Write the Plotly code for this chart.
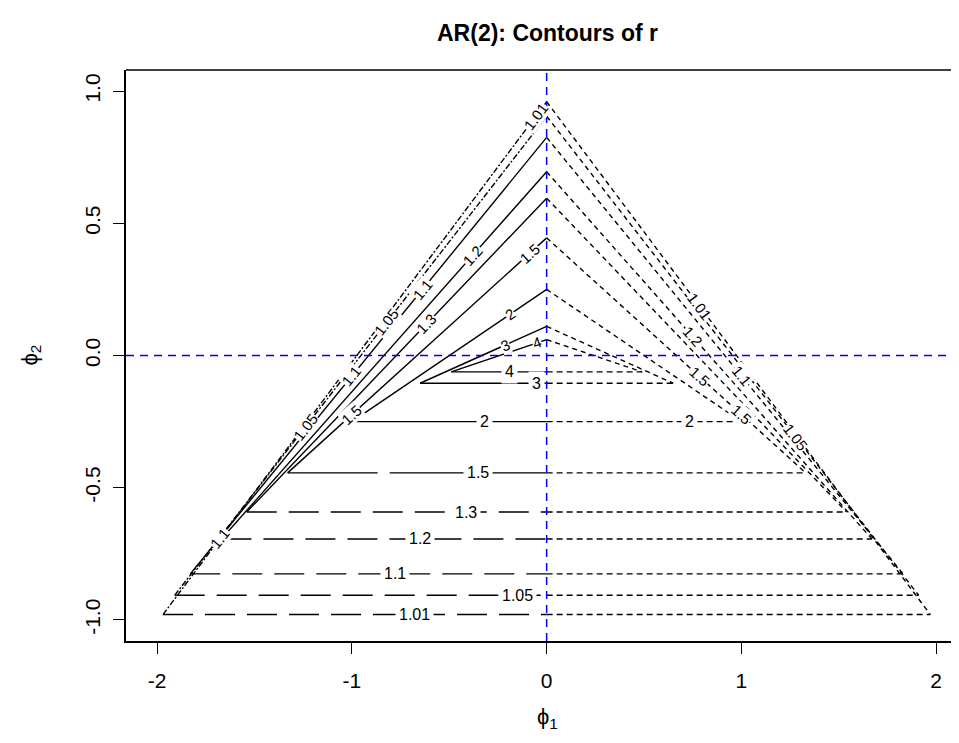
import numpy as np
import plotly.graph_objects as go

# ---- data ----
level_labels = ["1.01", "1.05", "1.1", "1.2", "1.3", "1.5", "2", "3", "4"]
apex_phi2 = [0.96, 0.905, 0.825, 0.695, 0.595, 0.445, 0.25, 0.11, 0.06]
base_phi2 = [-0.98, -0.907, -0.826, -0.694, -0.592, -0.444, -0.25, -0.105, -0.062]
half_width = [1.97, 1.91, 1.83, 1.67, 1.54, 1.33, 1.0, 0.65, 0.49]

# contour labels on the horizontal parts: level index and phi1 position
hlabel_level = [0, 1, 2, 3, 4, 5, 6, 6, 7, 8]
hlabel_phi1 = [-0.68, -0.15, -0.78, -0.65, -0.415, -0.355, -0.32, 0.735, -0.05, -0.19]
# contour labels on the slanted parts
slabel_level = [0, 1, 2, 3, 4, 5, 6, 7, 8, 2, 5, 1, 2, 0, 3, 5, 2, 5, 1]
slabel_phi1 = [-0.056, -0.82, -0.637, -0.38, -0.616, -0.087, -0.19, -0.215, -0.05,
               -1.0, -1.0, -1.24, -1.68, 0.786, 0.75, 0.786, 1.0, 1.0, 1.28]

x_ticks = [-2, -1, 0, 1, 2]
y_ticks = [-1.0, -0.5, 0.0, 0.5, 1.0]
y_ticktext = ["-1.0", "-0.5", "0.0", "0.5", "1.0"]

# ---- layout geometry (page body adds an 8px offset) ----
OFF = 8
W, H = 959 - OFF, 743 - OFF
ml, mr, mt = 126 - OFF, 0, 70 - OFF
mb = H - (641 - OFF)
plot_w, plot_h = W - ml - mr, H - mt - mb
xr = [-2.16, -2.16 + plot_w / 194.75]
yr = [-1.08, 1.08]
px_x = plot_w / (xr[1] - xr[0])
px_y = plot_h / (yr[1] - yr[0])

FONT = "Liberation Sans, Arial, sans-serif"

fig = go.Figure()

for i, lab in enumerate(level_labels):
    a, b, w = apex_phi2[i], base_phi2[i], half_width[i]
    left_slant_dash = "6px,2px,2px,2px" if i <= 1 else "solid"
    left_h_dash = "30px,12px" if i <= 4 else ("90px,12px" if i == 5 else "solid")
    pieces = [
        ([-w, 0], [b, a], left_slant_dash),
        ([0, w], [a, b], "5px,4px"),
        ([-w, 0], [b, b], left_h_dash),
        ([0, w], [b, b], "6px,4px"),
    ]
    for xs, ys, dash in pieces:
        fig.add_trace(go.Scatter(x=xs, y=ys, mode="lines",
                                 line=dict(color="black", width=1.4, dash=dash),
                                 hoverinfo="skip", showlegend=False, name=lab))

annos = []
for li, p1 in zip(hlabel_level, hlabel_phi1):
    annos.append(dict(x=p1, y=base_phi2[li], text=level_labels[li], showarrow=False,
                      xanchor="center", yanchor="middle",
                      font=dict(family=FONT, size=16, color="black"),
                      bgcolor="white", borderpad=3, xref="x", yref="y"))
for li, p1 in zip(slabel_level, slabel_phi1):
    a, b, w = apex_phi2[li], base_phi2[li], half_width[li]
    p2 = float(np.interp(p1, [-w, 0, w], [b, a, b]))
    ang = float(np.degrees(np.arctan((a - b) / w * px_y / px_x)))
    annos.append(dict(x=p1, y=p2, text=level_labels[li], showarrow=False,
                      xanchor="center", yanchor="middle",
                      textangle=-ang if p1 < 0 else ang,
                      font=dict(family=FONT, size=15, color="black"),
                      bgcolor="white", borderpad=0, xref="x", yref="y"))

# title and axis titles
cx = (547 - OFF - ml) / plot_w
annos.append(dict(x=cx, xref="paper", y=1 + (mt - (33 - OFF)) / plot_h, yref="paper",
                  xanchor="center", yanchor="middle",
                  text="<b>AR(2): Contours of r</b>", showarrow=False,
                  font=dict(family=FONT, size=23, color="black")))
annos.append(dict(x=cx, xref="paper", y=-((718 - OFF) - (mt + plot_h)) / plot_h, yref="paper",
                  xanchor="center", yanchor="middle",
                  text="ϕ<sub>1</sub>", showarrow=False,
                  font=dict(family=FONT, size=22, color="black")))
annos.append(dict(x=-(ml - (30 - OFF)) / plot_w, xref="paper", y=0.5, yref="paper",
                  xanchor="center", yanchor="middle",
                  text="ϕ<sub>2</sub>", showarrow=False, textangle=-90,
                  font=dict(family=FONT, size=22, color="black")))

shapes = [
    dict(type="line", xref="x", yref="paper", x0=0, x1=0, y0=0, y1=1,
         line=dict(color="blue", width=1.5, dash="8px,6px")),
    dict(type="line", xref="paper", yref="y", x0=0, x1=1, y0=0, y1=0,
         line=dict(color="blue", width=1.5, dash="8px,6px")),
    dict(type="line", xref="paper", yref="paper", x0=0, x1=1, y0=1, y1=1,
         line=dict(color="black", width=1.5)),
]

fig.update_layout(
    width=W, height=H,
    margin=dict(l=ml, r=mr, t=mt, b=mb, autoexpand=False),
    paper_bgcolor="white", plot_bgcolor="white",
    xaxis=dict(range=xr, tickvals=x_ticks, ticktext=[str(t) for t in x_ticks],
               ticks="outside", ticklen=11, tickcolor="black", tickwidth=1,
               showline=True, linecolor="black", linewidth=1.5, automargin=False,
               showgrid=False, zeroline=False, ticklabelstandoff=9,
               tickfont=dict(family=FONT, size=21, color="black")),
    yaxis=dict(range=yr, tickvals=y_ticks, ticktext=y_ticktext, tickangle=-90,
               ticks="outside", ticklen=11, tickcolor="black", tickwidth=1,
               showline=True, linecolor="black", linewidth=1.5, automargin=False,
               showgrid=False, zeroline=False, ticklabelstandoff=5,
               tickfont=dict(family=FONT, size=21, color="black")),
    annotations=annos,
    shapes=shapes,
)

fig.write_html("out.html")
